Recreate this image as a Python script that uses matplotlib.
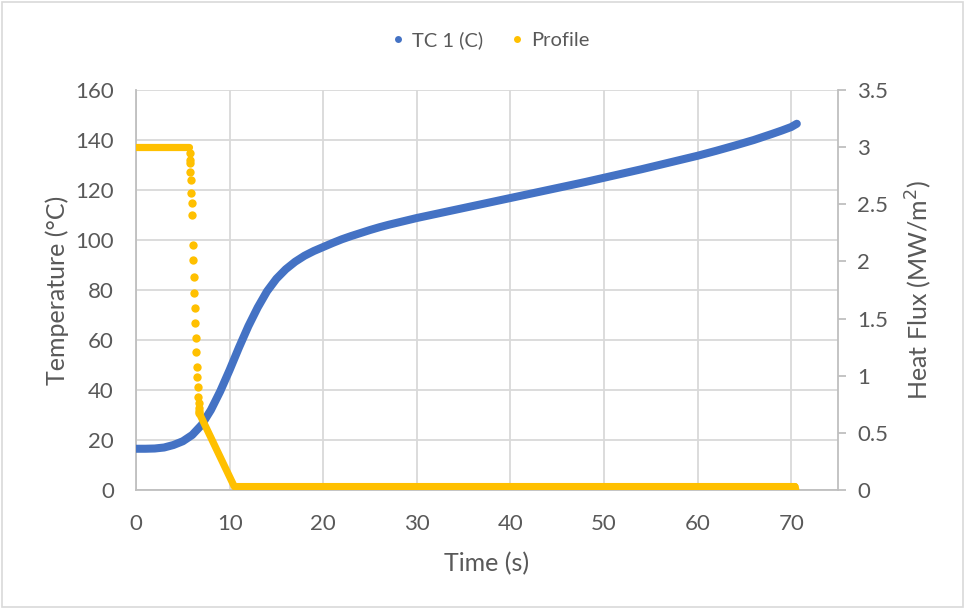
import matplotlib
matplotlib.use("Agg")
import matplotlib.pyplot as plt
from matplotlib.patches import Rectangle
from matplotlib.lines import Line2D

plt.rcParams['font.family'] = ['Lato', 'DejaVu Sans']

# Thermocouple temperature (°C)
tc_time = [0, 1, 2, 3, 4, 5, 6, 7, 8, 9, 10, 11, 12, 13, 14, 15, 16, 17, 18, 19,
           20, 21, 22, 23, 24, 25, 26, 27, 28, 29, 30, 32, 34, 36, 38, 40, 42, 44,
           46, 48, 50, 52, 54, 56, 58, 60, 62, 64, 66, 68, 69, 70, 70.6]
tc_temp = [16.5, 16.5, 16.6, 17.0, 18.0, 19.5, 22.0, 26.0, 32.0, 39.5, 48.0, 57.0,
           65.5, 73.0, 79.5, 84.5, 88.3, 91.3, 93.7, 95.6, 97.2, 98.8, 100.3, 101.6,
           102.8, 104.0, 105.1, 106.1, 107.0, 107.9, 108.8, 110.4, 112.0, 113.6,
           115.2, 116.8, 118.4, 120.0, 121.6, 123.2, 124.9, 126.6, 128.3, 130.1,
           131.9, 133.7, 135.7, 137.8, 140.0, 142.5, 143.8, 145.2, 146.5]

# Heat flux profile (MW/m²): hold, fast drop, ramp, low plateau, end
hold_time = [0, 5.68]
hold_flux = [3.0, 3.0]
drop_time = [5.72, 5.74, 5.76, 5.80, 5.84, 5.90, 5.94, 6.00, 6.05, 6.10, 6.15, 6.22,
             6.27, 6.33, 6.38, 6.45, 6.48, 6.52, 6.58, 6.65, 6.69, 6.71, 6.73, 6.75]
drop_flux = [2.95, 2.89, 2.86, 2.78, 2.71, 2.60, 2.51, 2.41, 2.14, 2.01, 1.86, 1.72,
             1.59, 1.46, 1.33, 1.21, 1.08, 0.99, 0.90, 0.81, 0.76, 0.72, 0.69, 0.67]
ramp_time = [6.77, 10.5, 70.4]
ramp_flux = [0.67, 0.03, 0.03]
end_time = [70.4, 70.5]
end_flux = [0.03, 0.0]

x_ticks = [0, 10, 20, 30, 40, 50, 60, 70]
temp_ticks = [0, 20, 40, 60, 80, 100, 120, 140, 160]
flux_ticks = [0, 0.5, 1, 1.5, 2, 2.5, 3, 3.5]
flux_labels = ['0', '0.5', '1', '1.5', '2', '2.5', '3', '3.5']

BLUE = '#4472C4'
GOLD = '#FFC000'
TEXT = '#595959'
GRID = '#D9D9D9'
AXIS = '#BFBFBF'

fig = plt.figure(figsize=(9.66, 6.09), dpi=100)
fig.patches.append(Rectangle((0.002, 0.003), 0.995, 0.994, transform=fig.transFigure,
                             fill=False, edgecolor='#D9D9D9', linewidth=1.2))

ax = fig.add_axes([0.1408, 0.1954, 0.8675 - 0.1408, 0.8522 - 0.1954])
ax2 = ax.twinx()

ax.plot(tc_time, tc_temp, color=BLUE, linewidth=5.8, solid_capstyle='round',
        solid_joinstyle='round', zorder=3)

ax2.plot(hold_time, hold_flux, color=GOLD, linewidth=5.2, solid_capstyle='round', zorder=3)
ax2.plot(drop_time, drop_flux, linestyle='none', marker='o', markersize=6.0,
         markeredgewidth=0, color=GOLD, zorder=3)
ax2.plot(ramp_time, ramp_flux, color=GOLD, linewidth=5.2, solid_capstyle='round',
         solid_joinstyle='round', zorder=3)
ax2.plot(end_time, end_flux, color=GOLD, linewidth=5.2, solid_capstyle='round', zorder=3)

ax.set_xlim(0, 75)
ax.set_ylim(0, 160)
ax2.set_ylim(0, 3.5)
ax.set_xticks(x_ticks)
ax.set_yticks(temp_ticks)
ax2.set_yticks(flux_ticks)
ax2.set_yticklabels(flux_labels)

ax.grid(True, color=GRID, linewidth=1.3)
ax.set_axisbelow(True)

for a in (ax, ax2):
    for s in a.spines.values():
        s.set_visible(False)
ax.spines['left'].set_visible(True)
ax.spines['bottom'].set_visible(True)
ax2.spines['right'].set_visible(True)
for s in (ax.spines['left'], ax.spines['bottom'], ax2.spines['right']):
    s.set_color(AXIS)
    s.set_linewidth(1.3)

ax.tick_params(axis='both', length=0, labelsize=16, labelcolor=TEXT)
ax.tick_params(axis='y', pad=16)
ax.tick_params(axis='x', pad=17)
ax2.tick_params(axis='y', length=6, width=1.3, color=AXIS, labelsize=16,
                labelcolor=TEXT, pad=8)

ax.set_xlabel('Time (s)', fontsize=18, color=TEXT, labelpad=13.5)
ax.set_ylabel('Temperature (°C)', fontsize=18, color=TEXT, labelpad=4)
ax2.set_ylabel('Heat Flux (MW/m$^2$)', fontsize=18, color=TEXT, labelpad=11)

handles = [Line2D([], [], linestyle='none', marker='o', markersize=5, color=BLUE,
                  markeredgewidth=0),
           Line2D([], [], linestyle='none', marker='o', markersize=5, color=GOLD,
                  markeredgewidth=0)]
fig.legend(handles, ['TC 1 (C)', 'Profile'], loc='center', bbox_to_anchor=(0.506, 0.934),
           ncol=2, frameon=False, fontsize=14.5, labelcolor=TEXT, handletextpad=0.2,
           columnspacing=1.2, handlelength=1.0)

fig.savefig('out.png', dpi=100)
